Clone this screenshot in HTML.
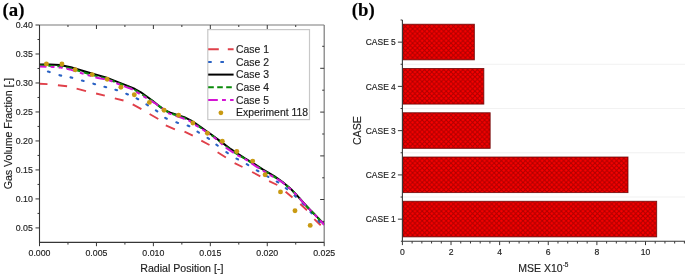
<!DOCTYPE html>
<html><head><meta charset="utf-8"><style>
html,body{margin:0;padding:0;background:#fff;width:685px;height:276px;overflow:hidden;}
svg{display:block;will-change:transform;}
svg text{stroke:#1e1e1e;stroke-width:0.16px;}
</style></head><body>
<svg width="685" height="276" viewBox="0 0 685 276"><text x="2.6" y="16" font-family='"Liberation Serif", serif' font-weight="bold" font-size="18.8" fill="#000">(a)</text>
<text x="351.8" y="15.6" font-family='"Liberation Serif", serif' font-weight="bold" font-size="18.8" fill="#000">(b)</text>
<line x1="39.5" y1="25.0" x2="324.2" y2="25.0" stroke="#7a7a7a" stroke-width="1.2"/>
<line x1="324.2" y1="25.0" x2="324.2" y2="242.4" stroke="#7a7a7a" stroke-width="1.2"/>
<line x1="39.5" y1="25.0" x2="39.5" y2="242.9" stroke="#363636" stroke-width="1.1"/>
<line x1="39.0" y1="242.4" x2="324.2" y2="242.4" stroke="#363636" stroke-width="1.1"/>
<line x1="35.5" y1="25.00" x2="39.5" y2="25.00" stroke="#363636" stroke-width="1"/>
<text x="32.8" y="28.10" text-anchor="end" font-family='"Liberation Sans", sans-serif' font-size="8.8" fill="#1e1e1e">0.40</text>
<line x1="35.5" y1="53.99" x2="39.5" y2="53.99" stroke="#363636" stroke-width="1"/>
<text x="32.8" y="57.09" text-anchor="end" font-family='"Liberation Sans", sans-serif' font-size="8.8" fill="#1e1e1e">0.35</text>
<line x1="35.5" y1="82.97" x2="39.5" y2="82.97" stroke="#363636" stroke-width="1"/>
<text x="32.8" y="86.07" text-anchor="end" font-family='"Liberation Sans", sans-serif' font-size="8.8" fill="#1e1e1e">0.30</text>
<line x1="35.5" y1="111.96" x2="39.5" y2="111.96" stroke="#363636" stroke-width="1"/>
<text x="32.8" y="115.06" text-anchor="end" font-family='"Liberation Sans", sans-serif' font-size="8.8" fill="#1e1e1e">0.25</text>
<line x1="35.5" y1="140.95" x2="39.5" y2="140.95" stroke="#363636" stroke-width="1"/>
<text x="32.8" y="144.05" text-anchor="end" font-family='"Liberation Sans", sans-serif' font-size="8.8" fill="#1e1e1e">0.20</text>
<line x1="35.5" y1="169.93" x2="39.5" y2="169.93" stroke="#363636" stroke-width="1"/>
<text x="32.8" y="173.03" text-anchor="end" font-family='"Liberation Sans", sans-serif' font-size="8.8" fill="#1e1e1e">0.15</text>
<line x1="35.5" y1="198.92" x2="39.5" y2="198.92" stroke="#363636" stroke-width="1"/>
<text x="32.8" y="202.02" text-anchor="end" font-family='"Liberation Sans", sans-serif' font-size="8.8" fill="#1e1e1e">0.10</text>
<line x1="35.5" y1="227.91" x2="39.5" y2="227.91" stroke="#363636" stroke-width="1"/>
<text x="32.8" y="231.01" text-anchor="end" font-family='"Liberation Sans", sans-serif' font-size="8.8" fill="#1e1e1e">0.05</text>
<line x1="37.5" y1="39.49" x2="39.5" y2="39.49" stroke="#363636" stroke-width="1"/>
<line x1="37.5" y1="68.48" x2="39.5" y2="68.48" stroke="#363636" stroke-width="1"/>
<line x1="37.5" y1="97.47" x2="39.5" y2="97.47" stroke="#363636" stroke-width="1"/>
<line x1="37.5" y1="126.45" x2="39.5" y2="126.45" stroke="#363636" stroke-width="1"/>
<line x1="37.5" y1="155.44" x2="39.5" y2="155.44" stroke="#363636" stroke-width="1"/>
<line x1="37.5" y1="184.43" x2="39.5" y2="184.43" stroke="#363636" stroke-width="1"/>
<line x1="37.5" y1="213.41" x2="39.5" y2="213.41" stroke="#363636" stroke-width="1"/>
<line x1="39.50" y1="242.4" x2="39.50" y2="246.20000000000002" stroke="#363636" stroke-width="1"/>
<text x="39.50" y="256.10" text-anchor="middle" font-family='"Liberation Sans", sans-serif' font-size="8.8" fill="#1e1e1e">0.000</text>
<line x1="96.44" y1="242.4" x2="96.44" y2="246.20000000000002" stroke="#363636" stroke-width="1"/>
<text x="96.44" y="256.10" text-anchor="middle" font-family='"Liberation Sans", sans-serif' font-size="8.8" fill="#1e1e1e">0.005</text>
<line x1="153.38" y1="242.4" x2="153.38" y2="246.20000000000002" stroke="#363636" stroke-width="1"/>
<text x="153.38" y="256.10" text-anchor="middle" font-family='"Liberation Sans", sans-serif' font-size="8.8" fill="#1e1e1e">0.010</text>
<line x1="210.32" y1="242.4" x2="210.32" y2="246.20000000000002" stroke="#363636" stroke-width="1"/>
<text x="210.32" y="256.10" text-anchor="middle" font-family='"Liberation Sans", sans-serif' font-size="8.8" fill="#1e1e1e">0.015</text>
<line x1="267.26" y1="242.4" x2="267.26" y2="246.20000000000002" stroke="#363636" stroke-width="1"/>
<text x="267.26" y="256.10" text-anchor="middle" font-family='"Liberation Sans", sans-serif' font-size="8.8" fill="#1e1e1e">0.020</text>
<line x1="324.20" y1="242.4" x2="324.20" y2="246.20000000000002" stroke="#363636" stroke-width="1"/>
<text x="324.20" y="256.10" text-anchor="middle" font-family='"Liberation Sans", sans-serif' font-size="8.8" fill="#1e1e1e">0.025</text>
<line x1="67.97" y1="242.4" x2="67.97" y2="244.6" stroke="#363636" stroke-width="1"/>
<line x1="124.91" y1="242.4" x2="124.91" y2="244.6" stroke="#363636" stroke-width="1"/>
<line x1="181.85" y1="242.4" x2="181.85" y2="244.6" stroke="#363636" stroke-width="1"/>
<line x1="238.79" y1="242.4" x2="238.79" y2="244.6" stroke="#363636" stroke-width="1"/>
<line x1="295.73" y1="242.4" x2="295.73" y2="244.6" stroke="#363636" stroke-width="1"/>
<line x1="67.97" y1="25.0" x2="67.97" y2="27.0" stroke="#363636" stroke-width="1"/>
<line x1="96.44" y1="25.0" x2="96.44" y2="29.0" stroke="#363636" stroke-width="1"/>
<line x1="124.91" y1="25.0" x2="124.91" y2="27.0" stroke="#363636" stroke-width="1"/>
<line x1="153.38" y1="25.0" x2="153.38" y2="29.0" stroke="#363636" stroke-width="1"/>
<line x1="181.85" y1="25.0" x2="181.85" y2="27.0" stroke="#363636" stroke-width="1"/>
<line x1="210.32" y1="25.0" x2="210.32" y2="29.0" stroke="#363636" stroke-width="1"/>
<line x1="238.79" y1="25.0" x2="238.79" y2="27.0" stroke="#363636" stroke-width="1"/>
<line x1="267.26" y1="25.0" x2="267.26" y2="29.0" stroke="#363636" stroke-width="1"/>
<line x1="295.73" y1="25.0" x2="295.73" y2="27.0" stroke="#363636" stroke-width="1"/>
<line x1="322.2" y1="46.3" x2="324.2" y2="46.3" stroke="#363636" stroke-width="1"/>
<line x1="320.2" y1="68.3" x2="324.2" y2="68.3" stroke="#363636" stroke-width="1"/>
<line x1="322.2" y1="90.2" x2="324.2" y2="90.2" stroke="#363636" stroke-width="1"/>
<line x1="320.2" y1="112.1" x2="324.2" y2="112.1" stroke="#363636" stroke-width="1"/>
<line x1="322.2" y1="134.0" x2="324.2" y2="134.0" stroke="#363636" stroke-width="1"/>
<line x1="320.2" y1="155.9" x2="324.2" y2="155.9" stroke="#363636" stroke-width="1"/>
<line x1="322.2" y1="177.8" x2="324.2" y2="177.8" stroke="#363636" stroke-width="1"/>
<line x1="320.2" y1="199.5" x2="324.2" y2="199.5" stroke="#363636" stroke-width="1"/>
<line x1="322.2" y1="221.4" x2="324.2" y2="221.4" stroke="#363636" stroke-width="1"/>
<text x="181.85" y="272.4" text-anchor="middle" font-family='"Liberation Sans", sans-serif' font-size="10.6" fill="#1e1e1e">Radial Position [-]</text>
<text transform="translate(11.6,133.70) rotate(-90)" x="0" y="0" text-anchor="middle" font-family='"Liberation Sans", sans-serif' font-size="10.6" fill="#1e1e1e">Gas Volume Fraction [-]</text>
<clipPath id="pa"><rect x="39.9" y="25.5" width="284.3" height="216.9"/></clipPath>
<g clip-path="url(#pa)">
<path d="M39.4,83.7 L47.5,84.1 M57.9,85.2 L67.1,86.2 M76.6,88.6 L86.0,91.2 M96.1,93.5 L104.8,95.7 M114.8,98.3 L123.5,100.5 M132.7,104.3 L141.4,109.2 M149.6,114.0 L158.3,119.0 M165.8,125.4 L174.9,129.4 M184.5,131.6 L192.8,135.6 M201.3,140.6 L209.5,145.0 M217.6,152.2 L225.9,157.5 M234.6,163.2 L242.5,167.0 M252.1,172.0 L260.3,176.3 M269.1,181.1 L277.3,185.0 M285.6,191.8 L292.5,197.4 M300.3,204.0 L307.0,210.2 M314.3,219.1 L320.7,225.3" fill="none" stroke="#e0404a" stroke-width="1.9"/>
<path d="M47.94,71.53 L49.66,72.07 M59.43,75.18 L61.17,75.62 M70.52,77.39 L72.28,77.81 M81.93,80.56 L83.67,81.04 M93.33,83.66 L95.07,84.14 M104.43,86.76 L106.17,87.24 M115.34,89.72 L117.06,90.28 M126.27,93.75 L127.93,94.45 M136.61,98.38 L138.19,99.22 M146.44,104.32 L147.96,105.28 M155.87,110.28 L157.33,111.32 M165.22,117.85 L166.78,118.75 M176.35,122.31 L178.05,122.89 M187.68,125.53 L189.32,126.27 M197.44,131.72 L198.96,132.68 M207.56,137.89 L209.04,138.91 M216.38,144.66 L217.82,145.74 M226.36,152.09 L227.84,153.11 M236.52,158.54 L238.08,159.46 M246.72,164.15 L248.28,165.05 M256.83,170.34 L258.37,171.26 M266.82,176.06 L268.38,176.94 M276.74,181.51 L278.26,182.49 M285.80,188.14 L287.20,189.26 M294.54,195.59 L295.86,196.81 M302.58,203.35 L303.82,204.65 M310.49,212.03 L311.71,213.37 M318.49,220.83 L319.71,222.17" fill="none" stroke="#2a62c4" stroke-width="2.1" stroke-linecap="round"/>
<polyline points="39.4,64.4 50.0,64.6 60.0,65.0 70.9,67.2 81.7,70.5 92.6,73.8 105.9,77.4 116.7,81.6 127.6,85.9 135.0,89.0 140.9,92.3 145.0,95.3 152.6,100.7 160.2,106.9 165.3,110.5 170.4,112.6 178.0,115.1 184.3,117.1 190.7,120.3 195.0,123.2 200.4,126.8 205.9,130.9 211.3,134.5 216.7,138.6 222.2,142.6 230.9,149.2 236.0,152.5 244.5,158.2 252.9,163.1 262.7,169.4 274.2,176.1 282.3,181.8 290.9,189.0 296.3,194.6 303.7,202.9 308.0,207.6 313.0,212.7 318.0,217.9 322.4,222.5 324.2,224.5" fill="none" stroke="#000" stroke-width="2" stroke-linejoin="round"/>
<polyline points="39.4,65.4 50.0,65.7 60.0,66.3 70.9,68.5 81.7,71.8 92.6,75.1 105.9,78.5 116.7,82.5 127.6,86.8 135.0,90.1 140.9,93.5 145.0,96.3 152.6,101.2 160.2,106.9 165.3,110.7 170.4,113.3 178.0,115.9 184.3,118.0 190.7,121.0 195.0,124.0 200.4,127.5 205.9,131.3 211.3,135.0 216.7,139.1 222.2,143.5 230.9,150.1 236.0,153.4 244.5,158.5 252.9,163.6 262.7,169.9 274.2,176.8 282.3,182.1 290.9,189.1 296.3,194.7 303.7,203.0 308.0,207.7 313.0,212.8 318.0,218.0 322.4,222.7 324.2,224.7" fill="none" stroke="#0a8a0a" stroke-width="2" stroke-dasharray="5.6 3.4" stroke-linejoin="round"/>
<polyline points="39.4,66.4 53.0,66.9 61.0,67.6 69.8,69.4 81.7,73.2 98.0,78.1 103.7,78.9 111.3,81.0 117.8,83.8 127.6,87.6 131.1,88.7 144.1,96.7 155.0,103.2 162.6,108.6 167.6,113.0 181.7,117.9 189.3,120.7 195.9,125.4 203.0,129.7 213.9,137.3 219.3,141.6 225.4,147.3 236.3,154.6 247.2,160.3 256.0,166.3 270.2,175.2 281.1,181.4 290.9,189.2 296.3,194.8 303.7,203.1 308.0,207.8 313.0,212.9 318.0,218.1 322.4,222.8 324.2,224.8" fill="none" stroke="#d414d4" stroke-width="2" stroke-dasharray="9.6 4.2 3.9 4.2 3.9 4.2" stroke-dashoffset="2.6" stroke-linejoin="round"/>
</g>
<circle cx="46.4" cy="64.0" r="2.45" fill="#c99a12"/>
<circle cx="61.9" cy="64.0" r="2.45" fill="#c99a12"/>
<circle cx="75.2" cy="69.8" r="2.45" fill="#c99a12"/>
<circle cx="92.2" cy="74.6" r="2.45" fill="#c99a12"/>
<circle cx="107.2" cy="79.3" r="2.45" fill="#c99a12"/>
<circle cx="120.9" cy="87.2" r="2.45" fill="#c99a12"/>
<circle cx="134.3" cy="94.7" r="2.45" fill="#c99a12"/>
<circle cx="149.4" cy="102.4" r="2.45" fill="#c99a12"/>
<circle cx="164.1" cy="110.2" r="2.45" fill="#c99a12"/>
<circle cx="178.6" cy="115.2" r="2.45" fill="#c99a12"/>
<circle cx="192.9" cy="123.0" r="2.45" fill="#c99a12"/>
<circle cx="207.4" cy="133.3" r="2.45" fill="#c99a12"/>
<circle cx="222.3" cy="141.3" r="2.45" fill="#c99a12"/>
<circle cx="236.8" cy="151.5" r="2.45" fill="#c99a12"/>
<circle cx="252.7" cy="161.1" r="2.45" fill="#c99a12"/>
<circle cx="265.1" cy="174.8" r="2.45" fill="#c99a12"/>
<circle cx="280.5" cy="191.9" r="2.45" fill="#c99a12"/>
<circle cx="295.0" cy="210.7" r="2.45" fill="#c99a12"/>
<circle cx="310.2" cy="225.4" r="2.45" fill="#c99a12"/>
<rect x="207.8" y="29.6" width="101.7" height="90" fill="#fff" stroke="#c8c8c8" stroke-width="1.2"/>
<line x1="208.2" y1="49.2" x2="233.6" y2="49.2" stroke="#e0404a" stroke-width="1.9" stroke-dasharray="10.6 9"/>
<line x1="208.2" y1="62.0" x2="229" y2="62.0" stroke="#2a62c4" stroke-width="2" stroke-dasharray="3.5 8.7"/>
<line x1="208.2" y1="74.6" x2="233.6" y2="74.6" stroke="#000" stroke-width="2"/>
<line x1="208.2" y1="87.3" x2="233.6" y2="87.3" stroke="#0a8a0a" stroke-width="2" stroke-dasharray="5.6 3.4"/>
<line x1="208.2" y1="100.1" x2="233.6" y2="100.1" stroke="#d414d4" stroke-width="2" stroke-dasharray="9.6 4.2 3.9 4.2"/>
<circle cx="220.9" cy="112.8" r="2.4" fill="#c99a12"/>
<text x="236" y="52.80" font-family='"Liberation Sans", sans-serif' font-size="10.4" fill="#1e1e1e">Case 1</text>
<text x="236" y="65.60" font-family='"Liberation Sans", sans-serif' font-size="10.4" fill="#1e1e1e">Case 2</text>
<text x="236" y="78.20" font-family='"Liberation Sans", sans-serif' font-size="10.4" fill="#1e1e1e">Case 3</text>
<text x="236" y="90.90" font-family='"Liberation Sans", sans-serif' font-size="10.4" fill="#1e1e1e">Case 4</text>
<text x="236" y="103.70" font-family='"Liberation Sans", sans-serif' font-size="10.4" fill="#1e1e1e">Case 5</text>
<text x="236" y="116.40" font-family='"Liberation Sans", sans-serif' font-size="10.4" fill="#1e1e1e">Experiment 118</text>
<defs><pattern id="hatch" patternUnits="userSpaceOnUse" width="4.8" height="4.8" x="403" y="24"><rect width="4.8" height="4.8" fill="#f80606"/><path d="M-1,-1 L5.8,5.8 M5.8,-1 L-1,5.8" stroke="#9a0000" stroke-width="1.05" stroke-opacity="0.78"/></pattern><filter id="soft" x="-2%" y="-2%" width="104%" height="104%"><feGaussianBlur stdDeviation="0.45"/></filter></defs>
<rect x="402.9" y="24.23" width="71.46" height="35.60" fill="url(#hatch)" filter="url(#soft)"/>
<rect x="402.9" y="24.23" width="71.46" height="35.60" fill="none" stroke="#6a0000" stroke-width="0.9" stroke-opacity="0.85"/>
<line x1="397.9" y1="42.13" x2="402.4" y2="42.13" stroke="#363636" stroke-width="1"/>
<text x="395.8" y="45.43" text-anchor="end" font-family='"Liberation Sans", sans-serif' font-size="8.45" fill="#1e1e1e">CASE 5</text>
<rect x="402.9" y="68.49" width="80.94" height="35.60" fill="url(#hatch)" filter="url(#soft)"/>
<rect x="402.9" y="68.49" width="80.94" height="35.60" fill="none" stroke="#6a0000" stroke-width="0.9" stroke-opacity="0.85"/>
<line x1="397.9" y1="86.39" x2="402.4" y2="86.39" stroke="#363636" stroke-width="1"/>
<text x="395.8" y="89.69" text-anchor="end" font-family='"Liberation Sans", sans-serif' font-size="8.45" fill="#1e1e1e">CASE 4</text>
<rect x="402.9" y="112.75" width="87.26" height="35.60" fill="url(#hatch)" filter="url(#soft)"/>
<rect x="402.9" y="112.75" width="87.26" height="35.60" fill="none" stroke="#6a0000" stroke-width="0.9" stroke-opacity="0.85"/>
<line x1="397.9" y1="130.65" x2="402.4" y2="130.65" stroke="#363636" stroke-width="1"/>
<text x="395.8" y="133.95" text-anchor="end" font-family='"Liberation Sans", sans-serif' font-size="8.45" fill="#1e1e1e">CASE 3</text>
<rect x="402.9" y="157.01" width="225.10" height="35.60" fill="url(#hatch)" filter="url(#soft)"/>
<rect x="402.9" y="157.01" width="225.10" height="35.60" fill="none" stroke="#6a0000" stroke-width="0.9" stroke-opacity="0.85"/>
<line x1="397.9" y1="174.91" x2="402.4" y2="174.91" stroke="#363636" stroke-width="1"/>
<text x="395.8" y="178.21" text-anchor="end" font-family='"Liberation Sans", sans-serif' font-size="8.45" fill="#1e1e1e">CASE 2</text>
<rect x="402.9" y="201.27" width="253.78" height="35.60" fill="url(#hatch)" filter="url(#soft)"/>
<rect x="402.9" y="201.27" width="253.78" height="35.60" fill="none" stroke="#6a0000" stroke-width="0.9" stroke-opacity="0.85"/>
<line x1="397.9" y1="219.17" x2="402.4" y2="219.17" stroke="#363636" stroke-width="1"/>
<text x="395.8" y="222.47" text-anchor="end" font-family='"Liberation Sans", sans-serif' font-size="8.45" fill="#1e1e1e">CASE 1</text>
<line x1="403.4" y1="64.26" x2="685" y2="64.26" stroke="#ededed" stroke-width="0.8"/>
<line x1="403.4" y1="108.52" x2="685" y2="108.52" stroke="#ededed" stroke-width="0.8"/>
<line x1="403.4" y1="152.78" x2="685" y2="152.78" stroke="#ededed" stroke-width="0.8"/>
<line x1="403.4" y1="197.04" x2="685" y2="197.04" stroke="#ededed" stroke-width="0.8"/>
<line x1="400.59999999999997" y1="20.00" x2="402.4" y2="20.00" stroke="#363636" stroke-width="1"/>
<line x1="400.59999999999997" y1="64.26" x2="402.4" y2="64.26" stroke="#363636" stroke-width="1"/>
<line x1="400.59999999999997" y1="108.52" x2="402.4" y2="108.52" stroke="#363636" stroke-width="1"/>
<line x1="400.59999999999997" y1="152.78" x2="402.4" y2="152.78" stroke="#363636" stroke-width="1"/>
<line x1="400.59999999999997" y1="197.04" x2="402.4" y2="197.04" stroke="#363636" stroke-width="1"/>
<line x1="402.4" y1="20.0" x2="402.4" y2="241.3" stroke="#363636" stroke-width="1.1"/>
<line x1="400.9" y1="241.3" x2="685" y2="241.3" stroke="#363636" stroke-width="1.1"/>
<line x1="402.40" y1="241.3" x2="402.40" y2="245.10000000000002" stroke="#363636" stroke-width="1"/>
<text x="402.40" y="254.90" text-anchor="middle" font-family='"Liberation Sans", sans-serif' font-size="8.6" fill="#1e1e1e">0</text>
<line x1="451.02" y1="241.3" x2="451.02" y2="245.10000000000002" stroke="#363636" stroke-width="1"/>
<text x="451.02" y="254.90" text-anchor="middle" font-family='"Liberation Sans", sans-serif' font-size="8.6" fill="#1e1e1e">2</text>
<line x1="499.64" y1="241.3" x2="499.64" y2="245.10000000000002" stroke="#363636" stroke-width="1"/>
<text x="499.64" y="254.90" text-anchor="middle" font-family='"Liberation Sans", sans-serif' font-size="8.6" fill="#1e1e1e">4</text>
<line x1="548.26" y1="241.3" x2="548.26" y2="245.10000000000002" stroke="#363636" stroke-width="1"/>
<text x="548.26" y="254.90" text-anchor="middle" font-family='"Liberation Sans", sans-serif' font-size="8.6" fill="#1e1e1e">6</text>
<line x1="596.88" y1="241.3" x2="596.88" y2="245.10000000000002" stroke="#363636" stroke-width="1"/>
<text x="596.88" y="254.90" text-anchor="middle" font-family='"Liberation Sans", sans-serif' font-size="8.6" fill="#1e1e1e">8</text>
<line x1="645.50" y1="241.3" x2="645.50" y2="245.10000000000002" stroke="#363636" stroke-width="1"/>
<text x="645.50" y="254.90" text-anchor="middle" font-family='"Liberation Sans", sans-serif' font-size="8.6" fill="#1e1e1e">10</text>
<line x1="412.12" y1="241.3" x2="412.12" y2="243.5" stroke="#363636" stroke-width="1"/>
<line x1="421.85" y1="241.3" x2="421.85" y2="243.5" stroke="#363636" stroke-width="1"/>
<line x1="431.57" y1="241.3" x2="431.57" y2="243.5" stroke="#363636" stroke-width="1"/>
<line x1="441.30" y1="241.3" x2="441.30" y2="243.5" stroke="#363636" stroke-width="1"/>
<line x1="460.74" y1="241.3" x2="460.74" y2="243.5" stroke="#363636" stroke-width="1"/>
<line x1="470.47" y1="241.3" x2="470.47" y2="243.5" stroke="#363636" stroke-width="1"/>
<line x1="480.19" y1="241.3" x2="480.19" y2="243.5" stroke="#363636" stroke-width="1"/>
<line x1="489.92" y1="241.3" x2="489.92" y2="243.5" stroke="#363636" stroke-width="1"/>
<line x1="509.36" y1="241.3" x2="509.36" y2="243.5" stroke="#363636" stroke-width="1"/>
<line x1="519.09" y1="241.3" x2="519.09" y2="243.5" stroke="#363636" stroke-width="1"/>
<line x1="528.81" y1="241.3" x2="528.81" y2="243.5" stroke="#363636" stroke-width="1"/>
<line x1="538.54" y1="241.3" x2="538.54" y2="243.5" stroke="#363636" stroke-width="1"/>
<line x1="557.98" y1="241.3" x2="557.98" y2="243.5" stroke="#363636" stroke-width="1"/>
<line x1="567.71" y1="241.3" x2="567.71" y2="243.5" stroke="#363636" stroke-width="1"/>
<line x1="577.43" y1="241.3" x2="577.43" y2="243.5" stroke="#363636" stroke-width="1"/>
<line x1="587.16" y1="241.3" x2="587.16" y2="243.5" stroke="#363636" stroke-width="1"/>
<line x1="606.60" y1="241.3" x2="606.60" y2="243.5" stroke="#363636" stroke-width="1"/>
<line x1="616.33" y1="241.3" x2="616.33" y2="243.5" stroke="#363636" stroke-width="1"/>
<line x1="626.05" y1="241.3" x2="626.05" y2="243.5" stroke="#363636" stroke-width="1"/>
<line x1="635.78" y1="241.3" x2="635.78" y2="243.5" stroke="#363636" stroke-width="1"/>
<line x1="655.22" y1="241.3" x2="655.22" y2="243.5" stroke="#363636" stroke-width="1"/>
<line x1="664.95" y1="241.3" x2="664.95" y2="243.5" stroke="#363636" stroke-width="1"/>
<line x1="674.67" y1="241.3" x2="674.67" y2="243.5" stroke="#363636" stroke-width="1"/>
<line x1="684.40" y1="241.3" x2="684.40" y2="243.5" stroke="#363636" stroke-width="1"/>
<text x="543.4" y="271.6" text-anchor="middle" font-family='"Liberation Sans", sans-serif' font-size="10.5" fill="#1e1e1e">MSE X10<tspan font-size="6.5" dy="-4.3">-5</tspan></text>
<text transform="translate(361,130.65) rotate(-90)" x="0" y="0" text-anchor="middle" font-family='"Liberation Sans", sans-serif' font-size="10.6" fill="#1e1e1e">CASE</text></svg>
</body></html>
